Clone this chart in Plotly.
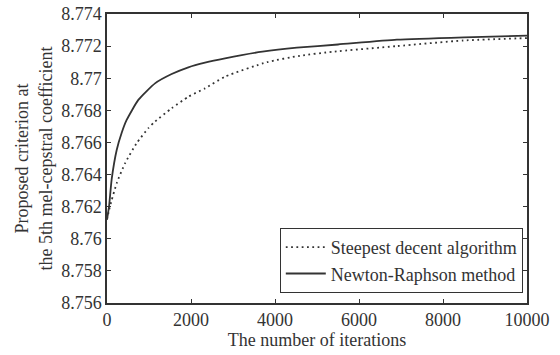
import plotly.graph_objects as go

# Data
steep_iter = [0, 50, 111, 231, 429, 705, 988, 1143, 1540, 1937, 2333, 2810, 3810, 4595, 5380,
              6900, 8480, 10000]
steep_val = [8.7612, 8.7618, 8.7624, 8.76346, 8.7647, 8.76595, 8.7669, 8.7673, 8.76813, 8.76885,
             8.76937, 8.7701, 8.7710, 8.7714, 8.77165, 8.7720, 8.77235, 8.7725]

newton_iter = [0, 48, 111, 231, 350, 468, 746, 1143, 1540, 1937, 2333, 2810, 3700, 4520, 5500,
               6900, 8500, 10000]
newton_val = [8.7612, 8.7620, 8.7637, 8.76553, 8.7666, 8.7674, 8.76865, 8.76968, 8.77026, 8.77068,
              8.77097, 8.77124, 8.77165, 8.7719, 8.7721, 8.7724, 8.77255, 8.77265]

x_ticks = [0, 2000, 4000, 6000, 8000, 10000]
x_tick_labels = ["0", "2000", "4000", "6000", "8000", "10000"]
y_ticks = [8.756, 8.758, 8.760, 8.762, 8.764, 8.766, 8.768, 8.770, 8.772, 8.774]
y_tick_labels = ["8.756", "8.758", "8.76", "8.762", "8.764", "8.766", "8.768", "8.77", "8.772", "8.774"]

FONT = "Liberation Serif"
INK = "#333333"
FS = 18

fig = go.Figure()
fig.add_trace(go.Scatter(
    x=steep_iter, y=steep_val, mode="lines", name="Steepest decent algorithm",
    line=dict(color=INK, width=1.8, dash="1.8px,3.5px", shape="spline", smoothing=0.5),
))
fig.add_trace(go.Scatter(
    x=newton_iter, y=newton_val, mode="lines", name="Newton-Raphson method",
    line=dict(color=INK, width=1.8, shape="spline", smoothing=0.5),
))

axis_common = dict(
    showline=True, linecolor=INK, linewidth=1.5, mirror="ticks",
    ticks="inside", ticklen=4, tickcolor=INK, tickwidth=1,
    showgrid=False, zeroline=False, automargin=False,
    ticklabeloverflow="allow",
    tickfont=dict(family=FONT, size=FS, color=INK),
)

fig.update_layout(
    template="none",
    width=560, height=355,
    margin=dict(l=107, r=33, t=14, b=52, autoexpand=False),
    paper_bgcolor="white", plot_bgcolor="white",
    font=dict(family=FONT, color=INK, size=FS),
    showlegend=True,
    legend=dict(
        x=0.99, y=0.035, xanchor="right", yanchor="bottom",
        bordercolor=INK, borderwidth=1, bgcolor="white",
        font=dict(family=FONT, size=FS, color=INK),
        tracegroupgap=0, itemwidth=40,
    ),
    xaxis=dict(
        range=[0, 10000], tickvals=x_ticks, ticktext=x_tick_labels,
        title=dict(text="The number of iterations", font=dict(family=FONT, size=FS, color=INK), standoff=0),
        **axis_common,
    ),
    yaxis=dict(
        range=[8.756, 8.774], tickvals=y_ticks, ticktext=y_tick_labels,
        title=dict(text="Proposed criterion at<br>the 5th mel-cepstral coefficient",
                   font=dict(family=FONT, size=FS, color=INK), standoff=4),
        **axis_common,
    ),
)

fig.write_html("out.html", config={"displayModeBar": False},
               post_script="document.body.style.margin='0';")
